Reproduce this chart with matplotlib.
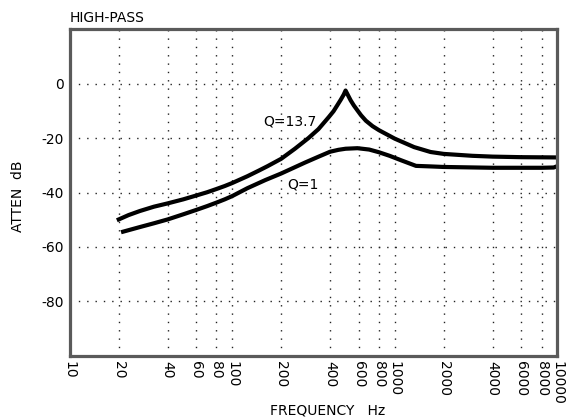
import numpy as np
import matplotlib
matplotlib.use('Agg')
import matplotlib.pyplot as plt

plt.rcParams['axes.unicode_minus'] = False
plt.rcParams['font.family'] = 'DejaVu Sans'

# curve readings, Hz / dB
freq_q137 = [19.5, 23, 27, 33, 40, 50, 60, 70, 80, 90, 100, 124, 145, 165, 200, 243,
             294, 339, 392, 420, 442, 465, 485, 498, 510, 535, 560, 589, 620, 664, 730,
             800, 1000, 1315, 1660, 2000, 3000, 4000, 6000, 10000]
db_q137 = [-50.2, -48.3, -46.8, -45.2, -44.0, -42.5, -41.1, -39.9, -38.7, -37.6, -36.5,
           -34.0, -32.0, -30.3, -27.6, -23.9, -20.0, -16.7, -12.3, -10.1, -8.0, -5.9,
           -4.0, -2.5, -3.7, -6.1, -8.0, -9.8, -11.6, -13.6, -15.6,
           -17.1, -20.2, -23.3, -25.1, -25.8, -26.5, -26.8, -27.0, -27.1]

freq_q1 = [20.7, 27, 33, 40, 50, 60, 70, 80, 90, 100, 124, 160, 200, 280, 340, 400, 450,
           498, 589, 696, 800, 929, 1100, 1350, 1660, 2000, 4000, 8000, 9500, 10000]
db_q1 = [-54.6, -52.7, -51.3, -49.9, -48.0, -46.4, -45.0, -43.7, -42.5, -41.3, -38.4,
         -35.4, -33.0, -29.0, -26.8, -25.0, -24.3, -23.9, -23.7, -24.2, -25.2, -26.5,
         -28.2, -30.2, -30.4, -30.6, -30.9, -30.9, -30.8, -30.3]

x_ticks = [10, 20, 40, 60, 80, 100, 200, 400, 600, 800, 1000, 2000, 4000, 6000, 8000, 10000]
y_ticks = [0, -20, -40, -60, -80]

fig = plt.figure(figsize=(5.69, 4.19), dpi=100)
ax = fig.add_axes([0.1225, 0.151, 0.857, 0.779])

ax.plot(freq_q137, db_q137, color='black', lw=3.0, solid_capstyle='butt')
ax.plot(freq_q1, db_q1, color='black', lw=3.0, solid_capstyle='butt')

ax.set_xscale('log')
ax.set_xlim(10, 10000)
ax.set_ylim(-100, 20)
ax.set_xticks(x_ticks)
ax.set_xticklabels([str(t) for t in x_ticks], rotation=270, va='top', ha='center')
ax.minorticks_off()
ax.set_yticks(y_ticks)
ax.set_yticklabels([str(t) for t in y_ticks])
ax.tick_params(length=0, labelsize=10, pad=4)

ax.grid(True, color='#222222', lw=1.0, linestyle=(0, (1, 5)))
for s in ax.spines.values():
    s.set_color('#5a5a5a')
    s.set_linewidth(2.3)

ax.text(156, -13.9, 'Q=13.7', fontsize=10, ha='left', va='center')
ax.text(218, -36.9, 'Q=1', fontsize=10, ha='left', va='center')

fig.text(70 / 569, 1 - 18 / 419, 'HIGH-PASS', fontsize=10, ha='left', va='center')
fig.text(18.3 / 569, 1 - 196 / 419, 'ATTEN  dB', fontsize=10, rotation=90, ha='center', va='center')
fig.text(327.5 / 569, 1 - 410 / 419, 'FREQUENCY   Hz', fontsize=10, ha='center', va='center')

fig.savefig('out.png', dpi=100)
